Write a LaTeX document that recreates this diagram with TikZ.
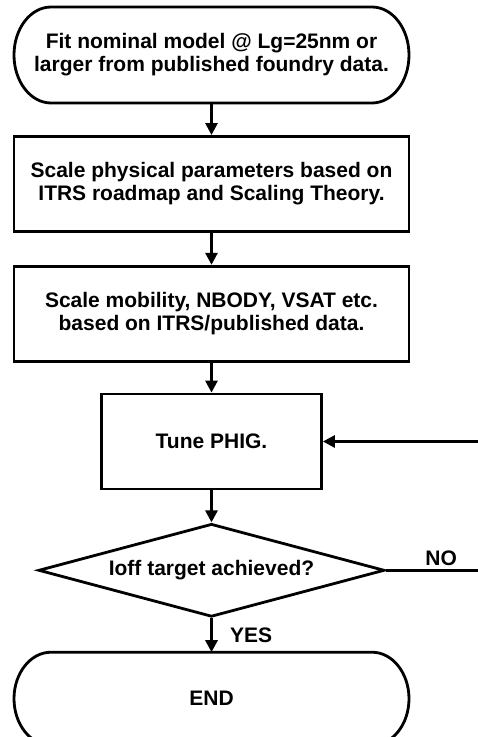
\documentclass[tikz,border=0pt]{standalone}
\usepackage{fontspec}
\setmainfont{Liberation Sans}
\usetikzlibrary{arrows.meta,positioning,shapes.geometric}

% outline of a terminal node, flat ends
\newcommand{\termline}[2]{%
  \draw[-] ([xshift=37pt]#1.north west) -- ([xshift=-37pt]#1.north east)
    arc[start angle=90,end angle=-90,x radius=37pt,y radius=#2]
    -- ([xshift=37pt]#1.south west)
    arc[start angle=270,end angle=90,x radius=37pt,y radius=#2] -- cycle;}

\begin{document}
\begin{tikzpicture}[x=1pt,y=1pt,->,>={Triangle[length=12pt,width=12pt]},line width=2.8pt,
        node distance=32pt,font=\fontsize{21}{23}\selectfont\bfseries]
        \tikzstyle{terminal}=[minimum width=395pt, inner sep=0pt, outer sep=0pt, align=center]
        \tikzstyle{process}=[draw, rectangle, minimum height=95pt, align=center]
        \tikzstyle{decision}=[draw, diamond, aspect=3.7, minimum width=346pt, minimum height=93pt, inner sep=0pt]

        \useasboundingbox (0,0) rectangle (478,-737);

        \node[terminal, minimum height=96pt] (start) at (211.5,-55)
            {Fit nominal model @ Lg=25nm or\\larger from published foundry data.};
        \node[process, minimum width=395pt] (scale) [below=of start]
            {Scale physical parameters based on\\ITRS roadmap and Scaling Theory.};
        \node[process, minimum width=395pt] (mob) [below=of scale]
            {Scale mobility, NBODY, VSAT etc.\\based on ITRS/published data.};
        \node[process, minimum width=220pt] (tune) [below=30pt of mob] {Tune PHIG.};
        \node[decision] (dec) [below=of tune] {Ioff target achieved?};
        \node[terminal, minimum height=93pt] (end) [below=34pt of dec] {END};

        \termline{start}{48pt}
        \termline{end}{46.5pt}

        \coordinate (rim) at (478,0);
        \coordinate (noend) at (dec.east -| rim);
        \coordinate (loopin) at (tune.east -| rim);

        \path (start) edge (scale)
        (scale) edge (mob)
        (mob) edge (tune)
        (tune) edge (dec)
        (dec) edge node[right=14pt] {YES} (end)
        (loopin) edge (tune);
        \draw[-] (dec.east) -- node[pos=0.6, above] {NO} (noend);
    \end{tikzpicture}
\end{document}
